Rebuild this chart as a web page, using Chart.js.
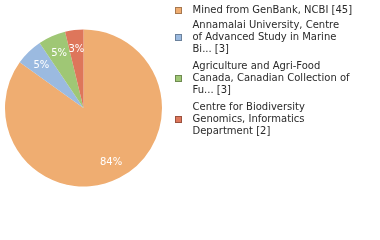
<!DOCTYPE html>
<html><head><meta charset="utf-8">
<script src="https://cdn.jsdelivr.net/npm/chart.js@4/dist/chart.umd.min.js"></script>
<style>html,body{margin:0;padding:0;background:#fff;}canvas{display:block;}</style>
</head><body>
<canvas id="c" width="380" height="240"></canvas>
<script>
const categories = [
  ["Mined from GenBank, NCBI [45]"],
  ["Annamalai University, Centre", "of Advanced Study in Marine", "Bi... [3]"],
  ["Agriculture and Agri-Food", "Canada, Canadian Collection of", "Fu... [3]"],
  ["Centre for Biodiversity", "Genomics, Informatics", "Department [2]"]
];
const counts = [45, 3, 3, 2];
const colors = ["#efad71", "#9bbae0", "#9fc775", "#de765b"];

const FONT = "DejaVu Sans, Verdana, sans-serif";

const labelPlugin = {
  id: 'pctLabels',
  afterDraw(chart) {
    const ctx = chart.ctx;
    const meta = chart.getDatasetMeta(0);
    const total = counts.reduce((a, b) => a + b, 0);
    ctx.save();
    ctx.fillStyle = '#fff';
    ctx.font = '10px ' + FONT;
    ctx.textAlign = 'center';
    ctx.textBaseline = 'middle';
    meta.data.forEach((arc, i) => {
      const mid = (arc.startAngle + arc.endAngle) / 2;
      const r = arc.outerRadius * 0.77;
      const x = arc.x + Math.cos(mid) * r;
      const y = arc.y + Math.sin(mid) * r;
      const pct = Math.floor(counts[i] / total * 100) + '%';
      ctx.fillText(pct, x, y + 1);
    });
    // legend
    ctx.textAlign = 'left';
    ctx.textBaseline = 'middle';
    ctx.font = '10px ' + FONT;
    const lineH = 12;
    const starts = [10, 25, 66, 107.5];
    categories.forEach((lines, i) => {
      const y0 = starts[i];
      const midY = y0 + (lines.length - 1) * lineH / 2;
      ctx.fillStyle = colors[i];
      ctx.fillRect(175, Math.round(midY - 3.5), 7, 7);
      ctx.strokeStyle = 'rgba(0,0,0,0.3)';
      ctx.lineWidth = 1;
      ctx.strokeRect(175.5, Math.round(midY - 3.5) + 0.5, 6, 6);
      ctx.fillStyle = '#2a2a2a';
      lines.forEach((t, j) => ctx.fillText(t, 192.5, y0 + j * lineH));
    });
    ctx.restore();
  }
};

new Chart(document.getElementById('c'), {
  type: 'pie',
  data: {
    labels: categories.map(l => l.join(' ')),
    datasets: [{ data: counts, backgroundColor: colors, borderWidth: 0 }]
  },
  options: {
    responsive: false,
    animation: false,
    layout: { padding: { left: 5, top: 29.5, right: 218, bottom: 53.5 } },
    plugins: { legend: { display: false }, tooltip: { enabled: false } }
  },
  plugins: [labelPlugin]
});
</script>
</body></html>
